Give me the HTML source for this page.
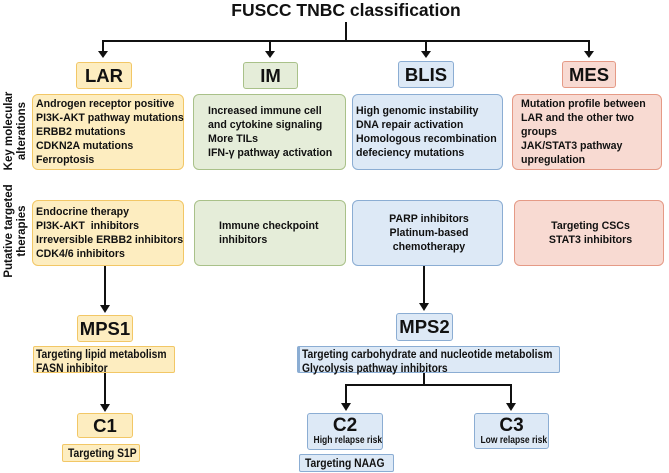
<!DOCTYPE html>
<html><head><meta charset="utf-8"><style>
body{margin:0;width:669px;height:473px;background:#fff;position:relative;overflow:hidden;font-family:"Liberation Sans",sans-serif;font-weight:bold;color:#111}
.b{position:absolute;box-sizing:border-box;border-radius:6px;border:1.5px solid}
.y{background:#fdedc0;border-color:#f2c766}
.g{background:#e5edd9;border-color:#a9c189}
.bl{background:#dde9f6;border-color:#8badd3}
.p{background:#f8dad2;border-color:#e59a86}
.h{font-size:18.5px;display:flex;align-items:center;justify-content:center;border-radius:3px}
.t{font-size:10.6px;line-height:14px;padding-left:3px;display:flex;flex-direction:column;justify-content:center;white-space:nowrap}
.c{align-items:center;text-align:center}
.n{font-size:12px;line-height:14px;white-space:nowrap;border-radius:2px}
.n span{display:inline-block;transform:scaleX(.86);transform-origin:left}
.side{position:absolute;font-size:11.5px;line-height:13px;text-align:center;transform:rotate(-90deg);white-space:nowrap}
</style></head><body>
<div style="position:absolute;left:0;width:692px;top:0px;text-align:center;font-size:17.5px">FUSCC TNBC classification</div>
<svg width="669" height="473" style="position:absolute;left:0;top:0" fill="#111" stroke="#111" stroke-width="2">
<line x1="346" y1="22" x2="346" y2="41"/>
<line x1="102" y1="41" x2="590" y2="41"/>
<line x1="103" y1="41" x2="103" y2="52"/><polygon stroke="none" points="98,51 108,51 103,58"/>
<line x1="270" y1="41" x2="270" y2="52"/><polygon stroke="none" points="265,51 275,51 270,58"/>
<line x1="426" y1="41" x2="426" y2="52"/><polygon stroke="none" points="421,51 431,51 426,58"/>
<line x1="589" y1="41" x2="589" y2="52"/><polygon stroke="none" points="584,51 594,51 589,58"/>
<line x1="105" y1="266" x2="105" y2="306"/><polygon stroke="none" points="100,305 110,305 105,313"/>
<line x1="105" y1="373" x2="105" y2="405"/><polygon stroke="none" points="100,404 110,404 105,412"/>
<line x1="424" y1="266" x2="424" y2="304"/><polygon stroke="none" points="419,303 429,303 424,311"/>
<line x1="424" y1="373" x2="424" y2="385"/>
<line x1="345" y1="385" x2="512" y2="385"/>
<line x1="346" y1="385" x2="346" y2="404"/><polygon stroke="none" points="341,403 351,403 346,411"/>
<line x1="511" y1="385" x2="511" y2="404"/><polygon stroke="none" points="506,403 516,403 511,411"/>
</svg>
<div class="b y h" style="left:76px;top:62px;width:56px;height:27px">LAR</div>
<div class="b g h" style="left:243px;top:62px;width:55px;height:27px">IM</div>
<div class="b bl h" style="left:398px;top:61px;width:56px;height:27px">BLIS</div>
<div class="b p h" style="left:562px;top:61px;width:54px;height:27px">MES</div>
<div class="side" style="left:-34px;top:118px;width:100px">Key molecular<br>alterations</div>
<div class="side" style="left:-44px;top:218px;width:120px">Putative targeted<br>therapies</div>
<div class="b y t" style="left:32px;top:94px;width:152px;height:76px">Androgen receptor positive<br>PI3K-AKT pathway mutations<br>ERBB2 mutations<br>CDKN2A mutations<br>Ferroptosis</div>
<div class="b g t" style="left:193px;top:94px;width:153px;height:76px;padding-left:14px">Increased immune cell<br>and cytokine signaling<br>More TILs<br>IFN-γ pathway activation</div>
<div class="b bl t" style="left:352px;top:94px;width:151px;height:76px">High genomic instability<br>DNA repair activation<br>Homologous recombination<br>defeciency mutations</div>
<div class="b p t" style="left:512px;top:94px;width:150px;height:76px;padding-left:8px">Mutation profile between<br>LAR and the other two<br>groups<br>JAK/STAT3 pathway<br>upregulation</div>
<div class="b y t" style="left:32px;top:200px;width:152px;height:66px">Endocrine therapy<br>PI3K-AKT&nbsp; inhibitors<br>Irreversible ERBB2 inhibitors<br>CDK4/6 inhibitors</div>
<div class="b g t" style="left:194px;top:200px;width:152px;height:66px;padding-left:24px">Immune checkpoint<br>inhibitors</div>
<div class="b bl t c" style="left:352px;top:200px;width:151px;height:66px">PARP inhibitors<br>Platinum-based<br>chemotherapy</div>
<div class="b p t c" style="left:514px;top:200px;width:150px;height:66px">Targeting CSCs<br>STAT3 inhibitors</div>
<div class="b y h" style="left:77px;top:315px;width:56px;height:27px">MPS1</div>
<div class="b bl h" style="left:396px;top:313px;width:57px;height:28px">MPS2</div>
<div class="b y n" style="left:33px;top:346px;width:142px;height:27px;padding:0 2px"><span>Targeting lipid metabolism<br>FASN inhibitor</span></div>
<div class="b bl n" style="left:297px;top:346px;width:263px;height:27px;padding:0 2px;border-left-width:3px"><span>Targeting carbohydrate and nucleotide metabolism<br>Glycolysis pathway inhibitors</span></div>
<div class="b y h" style="left:77px;top:413px;width:56px;height:25px">C1</div>
<div class="b y n" style="left:62px;top:444px;width:78px;height:18px;padding:1px 5px"><span>Targeting S1P</span></div>
<div class="b bl" style="left:307px;top:413px;width:76px;height:37px;text-align:center;border-radius:3px;white-space:nowrap"><div style="font-size:19px;line-height:19px;margin-top:2px">C2</div><div style="font-size:10px;line-height:12px;transform:scaleX(.85)">High relapse risk</div></div>
<div class="b bl" style="left:474px;top:413px;width:75px;height:36px;text-align:center;border-radius:3px;white-space:nowrap"><div style="font-size:19px;line-height:19px;margin-top:2px">C3</div><div style="font-size:10px;line-height:12px;transform:scaleX(.85)">Low relapse risk</div></div>
<div class="b bl n" style="left:299px;top:454px;width:95px;height:18px;padding:1px 5px"><span>Targeting NAAG</span></div>
</body></html>
